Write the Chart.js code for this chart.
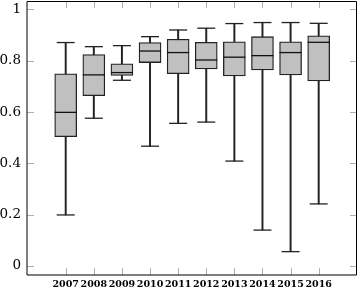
<!DOCTYPE html>
<html>
<head>
<meta charset="utf-8">
<script src="https://cdn.jsdelivr.net/npm/chart.js@4/dist/chart.umd.min.js"></script>
<style>
html,body{margin:0;padding:0;background:#fff;}
canvas{display:block;}
</style>
</head>
<body>
<canvas id="c" width="358" height="289"></canvas>
<script>
const years   = [2007, 2008, 2009, 2010, 2011, 2012, 2013, 2014, 2015, 2016];
const mins    = [0.199, 0.576, 0.724, 0.467, 0.556, 0.561, 0.409, 0.140, 0.056, 0.242];
const q1s     = [0.504, 0.664, 0.743, 0.793, 0.750, 0.768, 0.741, 0.764, 0.745, 0.721];
const medians = [0.599, 0.745, 0.754, 0.838, 0.832, 0.803, 0.814, 0.820, 0.832, 0.872];
const q3s     = [0.749, 0.824, 0.788, 0.871, 0.884, 0.872, 0.874, 0.894, 0.874, 0.897];
const maxs    = [0.871, 0.855, 0.859, 0.894, 0.920, 0.927, 0.945, 0.949, 0.949, 0.946];
const yTicks  = [0, 0.2, 0.4, 0.6, 0.8, 1];
const yTickLabels = ['0', '0.2', '0.4', '0.6', '0.8', '1'];

const whiskerData = years.map((x, i) => ({x: x, y: [mins[i], maxs[i]]}));
const boxData     = years.map((x, i) => ({x: x, y: [q1s[i], q3s[i]]}));
const medianData  = years.map((x, i) => ({x: x, y: medians[i]}));
const topCapData  = years.map((x, i) => ({x: x, y: maxs[i]}));
const lowCapData  = years.map((x, i) => ({x: x, y: mins[i]}));

const frameTicks = {
  id: 'frameTicks',
  afterDraw(chart) {
    const ctx = chart.ctx;
    const a = chart.chartArea;
    const xs = chart.scales.x, ys = chart.scales.y;
    ctx.save();
    ctx.strokeStyle = '#b0b0b0';
    ctx.lineWidth = 1;
    ctx.beginPath();
    years.forEach(v => {
      const px = Math.round(xs.getPixelForValue(v)) + 0.5;
      ctx.moveTo(px, a.bottom); ctx.lineTo(px, a.bottom - 7);
      ctx.moveTo(px, a.top); ctx.lineTo(px, a.top + 7);
    });
    yTicks.forEach(v => {
      const py = Math.round(ys.getPixelForValue(v)) + 0.5;
      ctx.moveTo(a.left, py); ctx.lineTo(a.left + 7, py);
      ctx.moveTo(a.right, py); ctx.lineTo(a.right - 7, py);
    });
    ctx.stroke();
    ctx.strokeStyle = '#000';
    ctx.lineWidth = 1;
    ctx.beginPath();
    ctx.moveTo(a.left, a.bottom); ctx.lineTo(a.left, a.top + 0.5);
    ctx.lineTo(a.right - 0.5, a.top + 0.5); ctx.lineTo(a.right - 0.5, a.bottom);
    ctx.lineTo(a.left, a.bottom);
    ctx.stroke();
    ctx.restore();
  }
};

new Chart(document.getElementById('c'), {
  type: 'bar',
  data: {
    datasets: [
      {
        type: 'scatter', data: medianData, order: 1,
        pointStyle: 'line', pointRadius: 11, pointHoverRadius: 11,
        borderColor: '#111', borderWidth: 1.3, backgroundColor: '#111'
      },
      {
        type: 'scatter', data: topCapData, order: 1,
        pointStyle: 'line', pointRadius: 9, pointHoverRadius: 9,
        borderColor: '#222', borderWidth: 1.3, backgroundColor: '#222'
      },
      {
        type: 'scatter', data: lowCapData, order: 1,
        pointStyle: 'line', pointRadius: 9, pointHoverRadius: 9,
        borderColor: '#222', borderWidth: 1.3, backgroundColor: '#222'
      },
      {
        type: 'bar', data: boxData, order: 2, grouped: false,
        barThickness: 22, backgroundColor: '#c0c0c0',
        borderColor: '#222', borderWidth: 1.3, borderSkipped: false
      },
      {
        type: 'bar', data: whiskerData, order: 3, grouped: false,
        barThickness: 1.3, backgroundColor: '#222', borderWidth: 0
      }
    ]
  },
  options: {
    responsive: false,
    devicePixelRatio: 1,
    animation: false,
    events: [],
    layout: {autoPadding: false, padding: {top: 1, right: 1, left: 0, bottom: 0}},
    plugins: {legend: {display: false}, tooltip: {enabled: false}},
    scales: {
      x: {
        type: 'linear', min: 2005.623, max: 2017.363, offset: false,
        grid: {display: false, drawTicks: false},
        border: {display: false},
        afterBuildTicks: s => { s.ticks = years.map(v => ({value: v})); },
        afterFit: s => { s.height = 14; s.paddingLeft = 0; s.paddingRight = 0; },
        ticks: {
          padding: 4, maxRotation: 0, autoSkip: false,
          color: '#000',
          font: {family: 'DejaVu Serif', size: 9.5, weight: 'bold'},
          callback: v => String(v)
        }
      },
      y: {
        type: 'linear', min: -0.0351, max: 1.033,
        grid: {display: false, drawTicks: false},
        border: {display: false},
        afterBuildTicks: s => { s.ticks = yTicks.map(v => ({value: v})); },
        afterFit: s => { s.width = 27; s.paddingTop = 0; s.paddingBottom = 0; },
        ticks: {
          padding: 6, color: '#000',
          font: {family: 'DejaVu Serif', size: 13.5},
          callback: (v, i) => yTickLabels[i]
        }
      }
    }
  },
  plugins: [frameTicks]
});
</script>
</body>
</html>
